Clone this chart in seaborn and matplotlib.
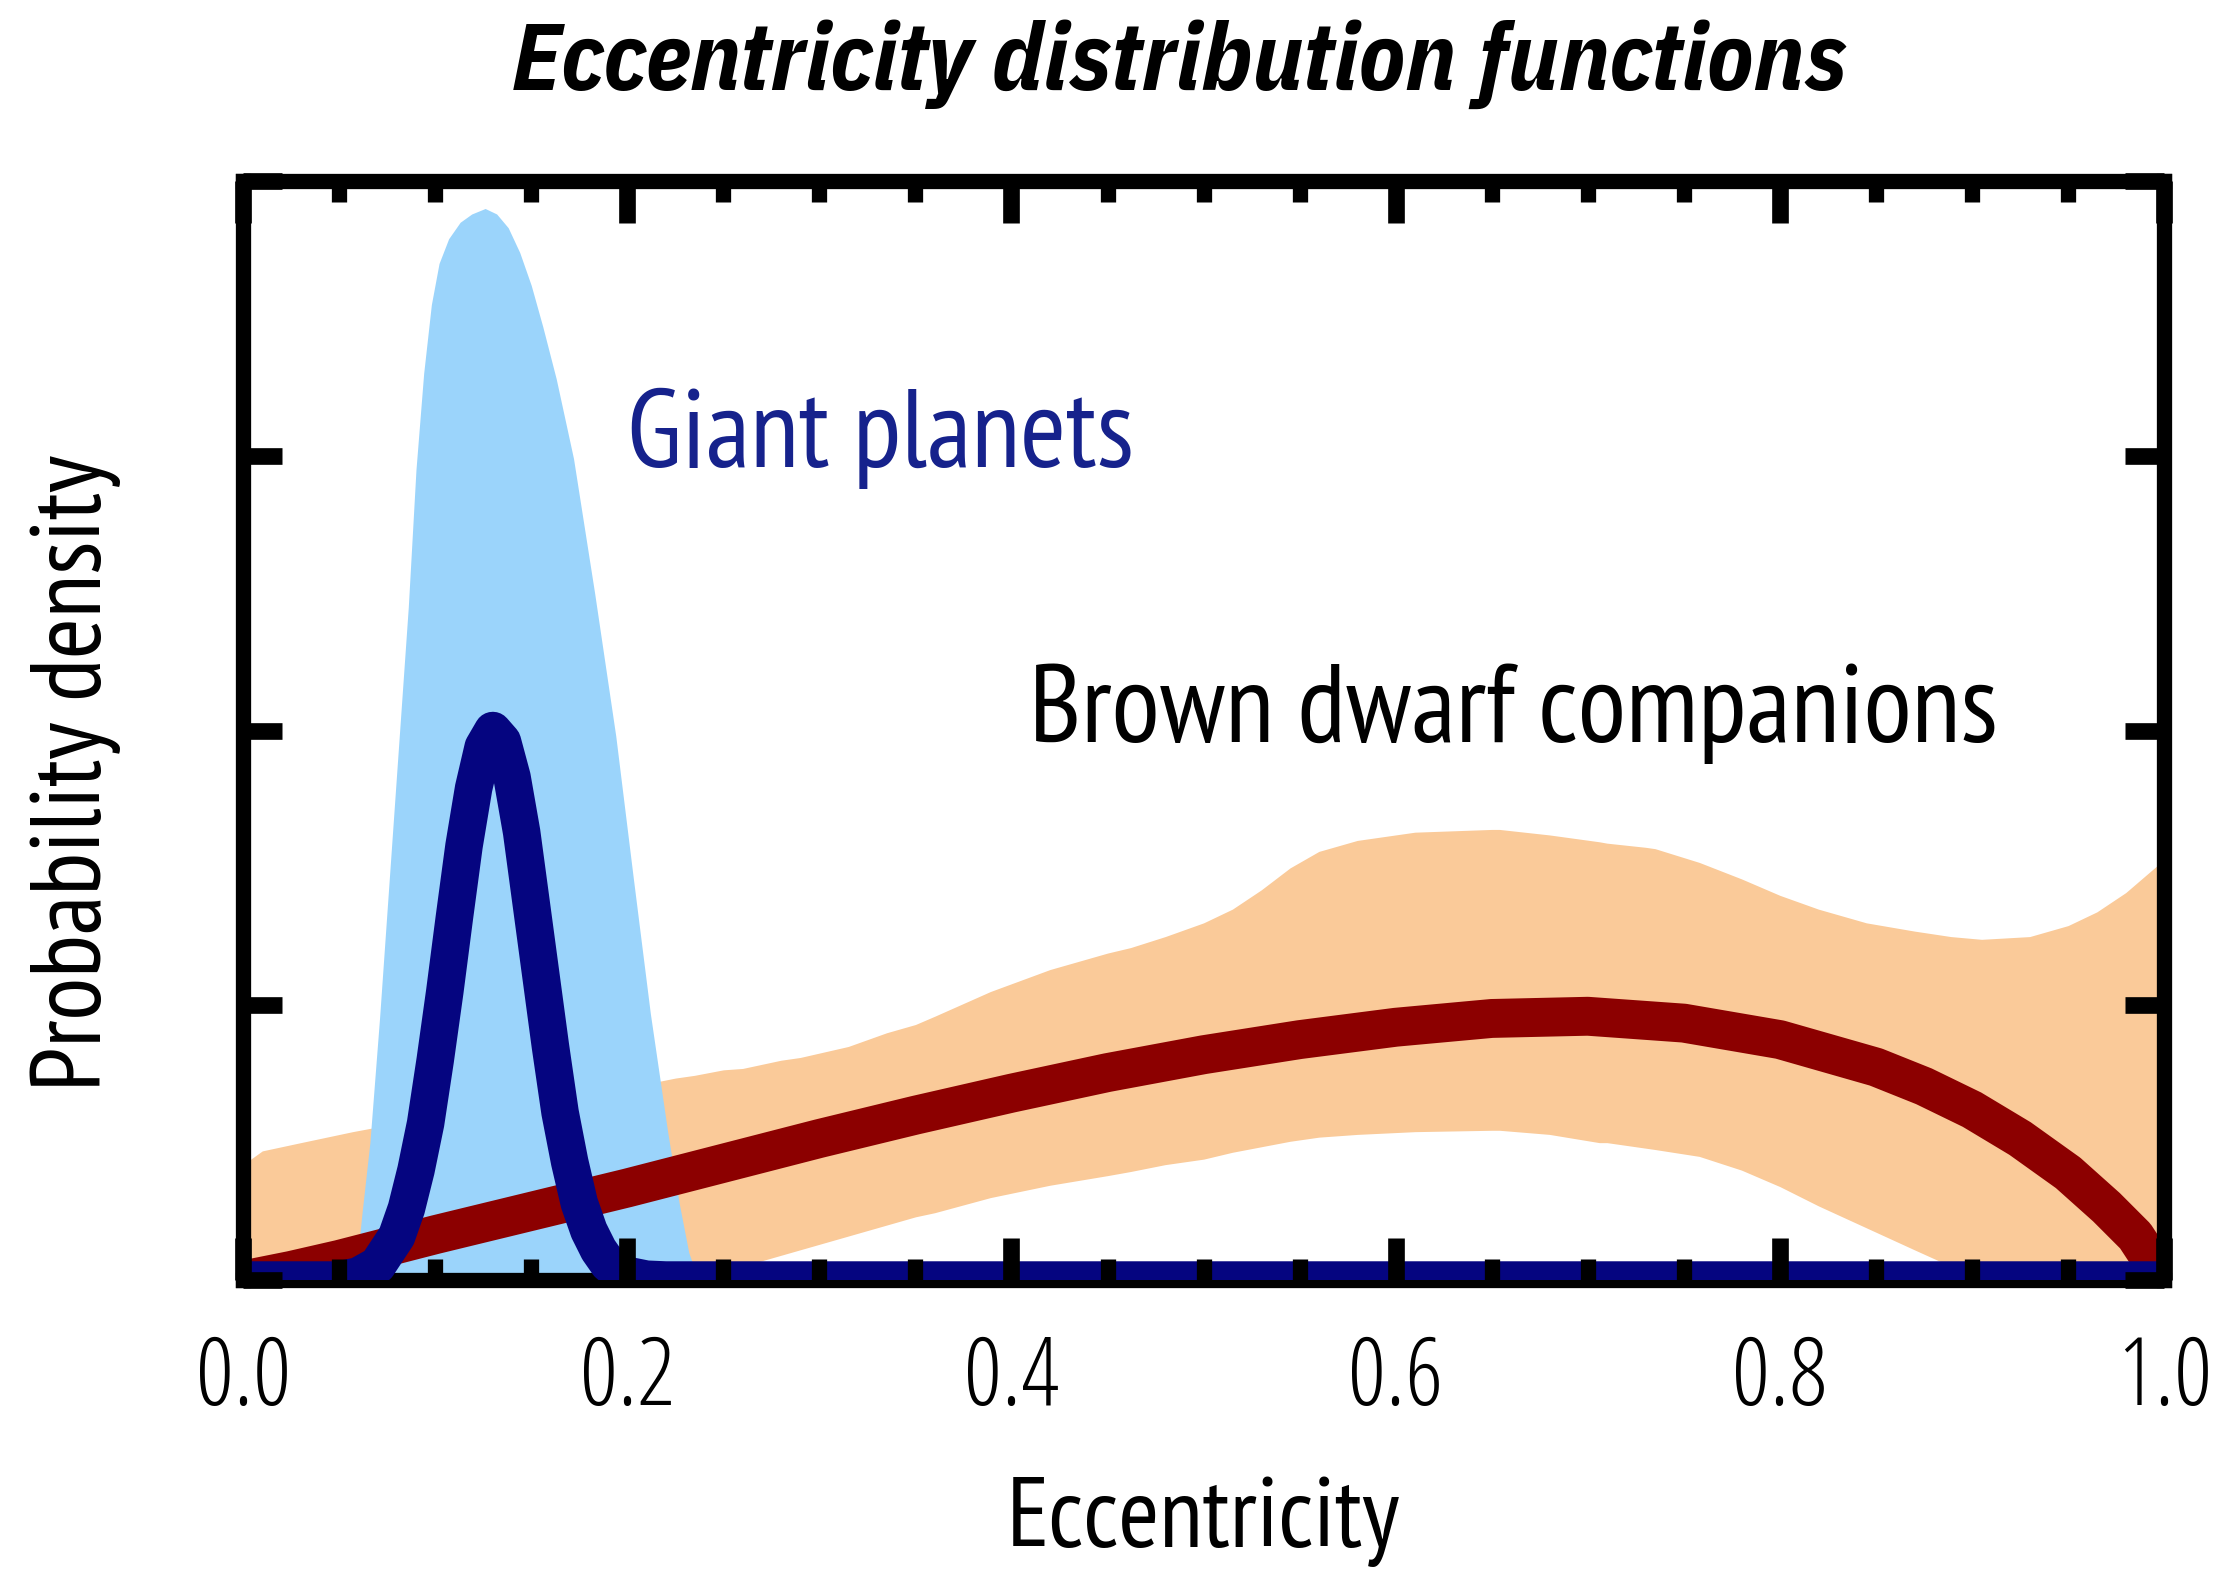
import numpy as np
import pandas as pd
import matplotlib
matplotlib.use("Agg")
import matplotlib.pyplot as plt
import seaborn as sns
from matplotlib.ticker import MultipleLocator
from matplotlib import font_manager as fm

# ---- data ----
# Brown dwarf companions: best-fit density curve
bd_e = [0.0, 0.025, 0.05, 0.075, 0.10, 0.15, 0.20, 0.25, 0.30, 0.35, 0.40, 0.45,
        0.50, 0.55, 0.60, 0.65, 0.70, 0.75, 0.80, 0.85, 0.875, 0.90, 0.925,
        0.95, 0.97, 0.985, 1.0]
bd_pdf = [0.0, 0.035, 0.075, 0.12, 0.165, 0.25, 0.335, 0.425, 0.515, 0.60, 0.68, 0.755,
          0.82, 0.875, 0.92, 0.952, 0.96, 0.935, 0.875, 0.775, 0.705, 0.62, 0.515,
          0.39, 0.265, 0.16, 0.0]

# Brown dwarf companions: uncertainty band
bd_band_e = [0.0, 0.01, 0.03, 0.057, 0.08, 0.12, 0.16, 0.20, 0.225, 0.235, 0.25,
             0.26, 0.28, 0.29, 0.315, 0.335, 0.35, 0.36, 0.389, 0.42, 0.45, 0.462,
             0.48, 0.50, 0.515, 0.53, 0.545, 0.56, 0.58, 0.61, 0.65,
             0.654, 0.68, 0.706, 0.71, 0.73, 0.735, 0.758, 0.78, 0.80, 0.82, 0.845,
             0.87, 0.889, 0.905, 0.93, 0.95, 0.965, 0.98, 0.99, 1.0]
bd_band_lo = [0.0, 0.0, 0.0, 0.0, 0.0, 0.0, 0.0, 0.0, 0.0, 0.0, 0.03,
              0.05, 0.09, 0.11, 0.16, 0.20, 0.23, 0.245, 0.30, 0.345, 0.38, 0.395,
              0.42, 0.44, 0.465, 0.485, 0.505, 0.52, 0.53, 0.54, 0.545,
              0.545, 0.53, 0.50, 0.50, 0.48, 0.475, 0.45, 0.40, 0.34, 0.27, 0.19,
              0.11, 0.05, 0.0, 0.0, 0.0, 0.0, 0.0, 0.0, 0.0]
bd_band_hi = [0.42, 0.47, 0.50, 0.54, 0.57, 0.62, 0.66, 0.70, 0.735, 0.745, 0.765,
              0.77, 0.80, 0.81, 0.85, 0.90, 0.93, 0.96, 1.05, 1.13, 1.19, 1.21,
              1.25, 1.30, 1.35, 1.42, 1.50, 1.56, 1.60, 1.63, 1.64,
              1.64, 1.62, 1.595, 1.59, 1.575, 1.57, 1.52, 1.46, 1.40, 1.35, 1.30,
              1.27, 1.25, 1.24, 1.25, 1.29, 1.34, 1.41, 1.47, 1.53]

# Giant planets: best-fit density curve
gp_e = [0.0, 0.05, 0.06, 0.07, 0.08, 0.085, 0.09, 0.095, 0.10, 0.105, 0.11, 0.115,
        0.12, 0.125, 0.13, 0.135, 0.14, 0.145, 0.15, 0.155, 0.16, 0.165, 0.17,
        0.175, 0.18, 0.185, 0.19, 0.195, 0.20, 0.21, 0.22, 1.0]
gp_pdf = [0.0, 0.0, 0.015, 0.054, 0.16, 0.26, 0.40, 0.57, 0.80, 1.05, 1.32, 1.58,
          1.79, 1.94, 2.0, 1.96, 1.83, 1.63, 1.37, 1.11, 0.85, 0.61, 0.43,
          0.28, 0.18, 0.11, 0.06, 0.03, 0.017, 0.003, 0.0, 0.0]

# Giant planets: upper envelope of the uncertainty band (lower edge is zero)
gp_band_e = [0.0, 0.057, 0.059, 0.062, 0.066, 0.071, 0.076, 0.081, 0.086, 0.090,
             0.094, 0.098, 0.102, 0.107, 0.113, 0.119, 0.126, 0.132, 0.138, 0.144,
             0.150, 0.156, 0.163, 0.172, 0.183, 0.194, 0.203, 0.212, 0.221, 0.227,
             0.232, 0.236, 0.240, 1.0]
gp_band_hi = [0.0, 0.0, 0.05, 0.25, 0.50, 0.95, 1.45, 1.95, 2.45, 2.95,
              3.30, 3.55, 3.70, 3.79, 3.85, 3.88, 3.90, 3.88, 3.83, 3.74,
              3.62, 3.47, 3.28, 2.99, 2.50, 1.98, 1.47, 0.97, 0.54, 0.28,
              0.10, 0.02, 0.0, 0.0]

x_ticks = [0.0, 0.2, 0.4, 0.6, 0.8, 1.0]
x_ticklabels = ["0.0", "0.2", "0.4", "0.6", "0.8", "1.0"]
y_ticks = [0, 1, 2, 3, 4]

title = "Eccentricity distribution functions"
x_label = "Eccentricity"
y_label = "Probability density"
label_gp = "Giant planets"
label_bd = "Brown dwarf companions"


# ---- fonts ----
def first_font(cands):
    names = {f.name for f in fm.fontManager.ttflist}
    for c in cands:
        if c in names:
            return c
    return "DejaVu Sans"


BODY = first_font(["PT Sans Narrow", "IBM Plex Sans Condensed", "Roboto Condensed",
                   "Open Sans Condensed", "Liberation Sans Narrow", "Roboto"])
TITLEF = first_font(["IBM Plex Sans Condensed", "PT Sans Narrow", "Roboto Condensed",
                     "Roboto"])
TICKF = first_font(["Open Sans", "IBM Plex Sans Condensed", "PT Sans Narrow"])

# ---- style ----
sns.set_theme(style="ticks")
plt.rcParams["font.family"] = [BODY, "DejaVu Sans"]
plt.rcParams["text.color"] = "black"
plt.rcParams["axes.labelcolor"] = "black"
plt.rcParams["xtick.color"] = "black"
plt.rcParams["ytick.color"] = "black"

ORANGE = "#FACA99"
LIGHTBLUE = "#9BD4FB"
DARKRED = "#8C0000"
NAVY = "#050580"
TEXTNAVY = "#16228C"

fig = plt.figure(figsize=(22.18, 15.70), dpi=100)
ax = fig.add_axes([0.1096, 0.1847, 0.9757 - 0.1096, 0.8847 - 0.1847])

bd_df = pd.DataFrame({"e": bd_e, "pdf": bd_pdf})
gp_df = pd.DataFrame({"e": gp_e, "pdf": gp_pdf})

ax.fill_between(bd_band_e, bd_band_lo, bd_band_hi, color=ORANGE, lw=0, zorder=1)
ax.fill_between(gp_band_e, 0, gp_band_hi, color=LIGHTBLUE, lw=0, zorder=1.1)
sns.lineplot(data=bd_df, x="e", y="pdf", ax=ax, color=DARKRED, lw=28,
             solid_capstyle="butt", solid_joinstyle="round", zorder=2.0)
sns.lineplot(data=gp_df, x="e", y="pdf", ax=ax, color=NAVY, lw=27,
             solid_capstyle="butt", solid_joinstyle="round", zorder=2.3)

ax.set_xlim(0, 1.0)
ax.set_ylim(0, 4.0)
ax.set_xticks(x_ticks)
ax.set_xticklabels(x_ticklabels)
ax.xaxis.set_minor_locator(MultipleLocator(0.05))
ax.set_yticks(y_ticks)
ax.set_yticklabels([])

for s in ax.spines.values():
    s.set_visible(True)
    s.set_linewidth(11)
    s.set_color("black")
    s.set_zorder(2.1)
ax.xaxis.set_zorder(4)
ax.yaxis.set_zorder(4)

ax.tick_params(axis="x", which="major", direction="in", length=30, width=12,
               top=True, bottom=True, pad=38)
ax.tick_params(axis="x", which="minor", direction="in", length=15, width=11,
               top=True, bottom=True)
ax.tick_params(axis="y", which="major", direction="in", length=28, width=12,
               left=True, right=True, labelleft=False)

tick_fp = fm.FontProperties(family=TICKF, weight=300, stretch="condensed", size=68)
for lab in ax.get_xticklabels():
    lab.set_fontproperties(tick_fp)

ax.set_xlabel(x_label, fontsize=71, labelpad=35)
ax.set_ylabel(y_label, fontsize=71, labelpad=88)
ax.yaxis.label.set_y(0.461)

ax.text(0.2, 2.96, label_gp, fontsize=80, color=TEXTNAVY, ha="left", va="baseline")
ax.text(0.409, 1.96, label_bd, fontsize=80, color="black", ha="left", va="baseline")

fig.text(0.532, 0.959, title, fontsize=68, fontweight="bold", fontstyle="italic",
         family=[TITLEF, "DejaVu Sans"], ha="center", va="center")

ax.set_facecolor("white")
fig.patch.set_facecolor("white")
fig.savefig("out.png", dpi=100)
